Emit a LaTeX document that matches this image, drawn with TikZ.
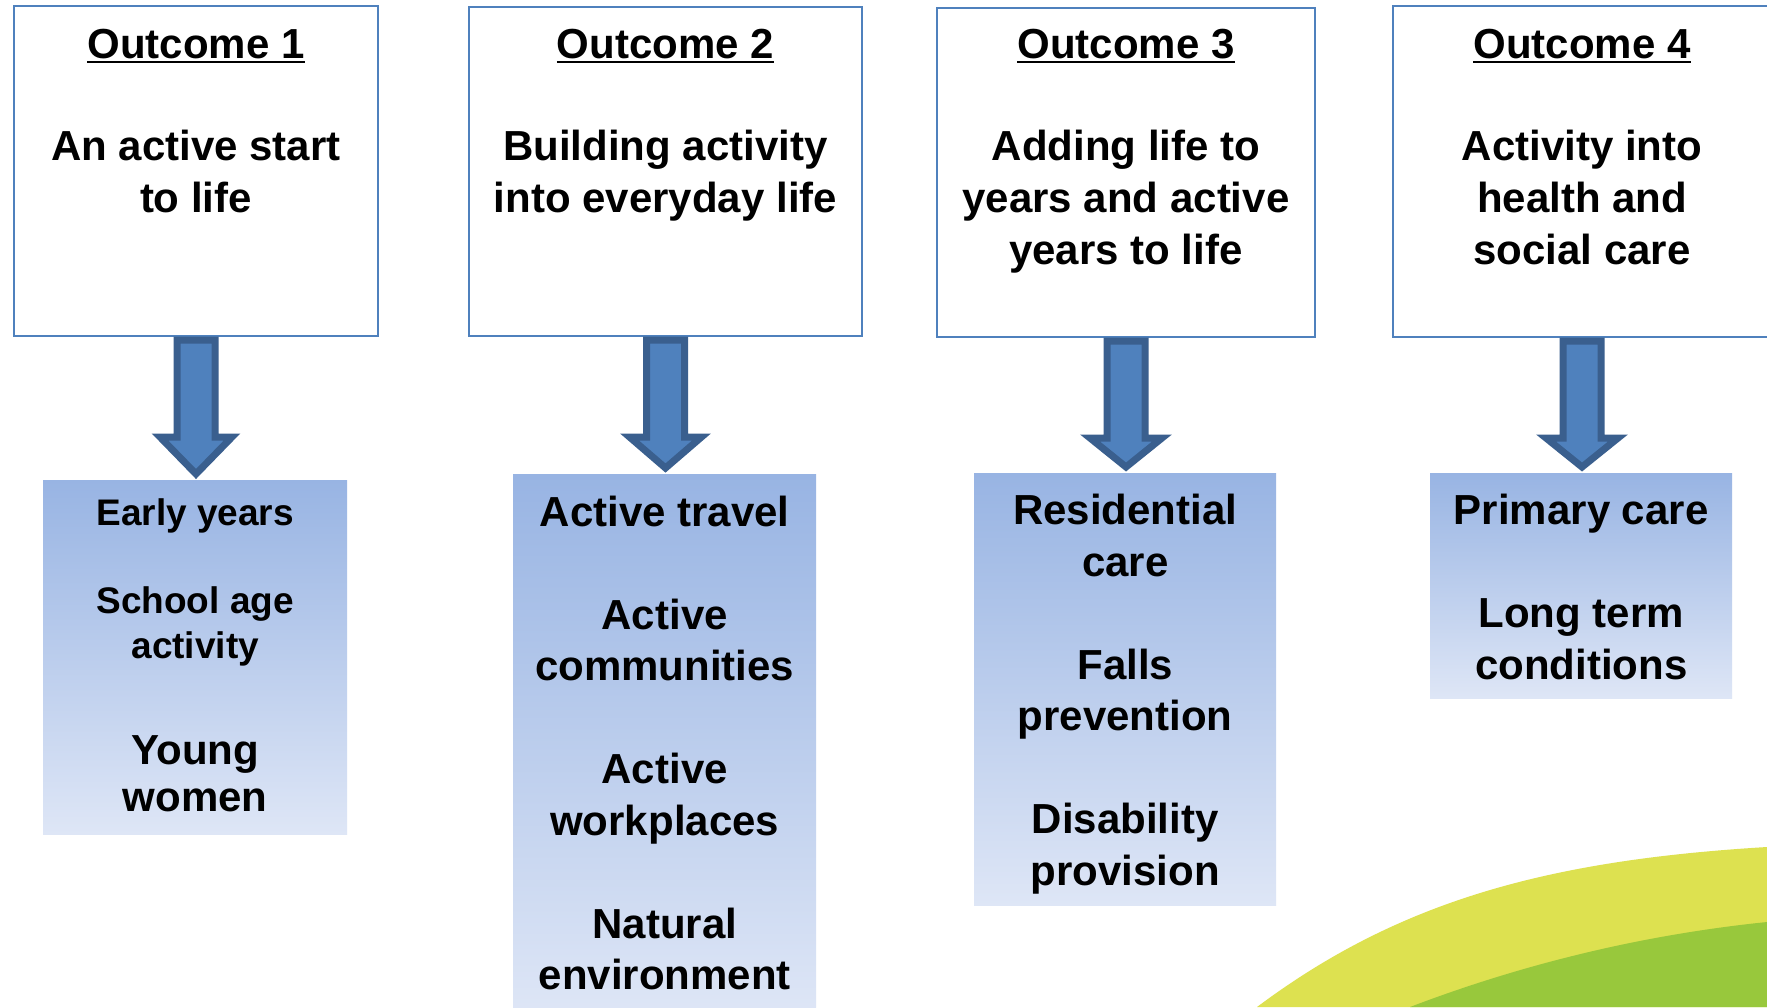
\documentclass[tikz,border=0pt]{standalone}
\usepackage{fontspec}
\setmainfont{Liberation Sans}
\usetikzlibrary{calc}

\definecolor{frameblue}{RGB}{79,129,189}
\definecolor{arrowfill}{RGB}{79,129,189}
\definecolor{arrowedge}{RGB}{58,95,142}
\definecolor{paneltop}{RGB}{152,180,227}
\definecolor{panelbot}{RGB}{222,230,246}
\definecolor{swyellow}{RGB}{221,225,80}
\definecolor{swgreen}{RGB}{152,200,60}

% underlined heading with a rule of fixed depth and thickness
\newcommand\ulbox[1]{\setbox0\hbox{#1}\rlap{\rule[-4.5pt]{\wd0}{2.5pt}}\box0}

% thick block arrow from an outcome box down to its panel
\newcommand\flowarrow[2]{%
  \draw[flow] ($(#1.south)+(-19,3)$) -- ($(#1.south)+(-19,100)$) -- ($(#1.south)+(-36,100)$)
    -- ($(#1.south |- #2.north)+(0,-6)$) -- ($(#1.south)+(36,100)$) -- ($(#1.south)+(19,100)$)
    -- ($(#1.south)+(19,3)$) -- cycle;}

\begin{document}
\begin{tikzpicture}[x=1pt,y=-1pt,
  outcome/.style={draw=frameblue, line width=2pt, fill=white, anchor=north west, inner sep=0pt},
  panel/.style={anchor=north west, inner sep=0pt, top color=paneltop, bottom color=panelbot, draw=none},
  title/.style={anchor=base, inner sep=0pt, font=\bfseries\fontsize{42pt}{52pt}\selectfont},
  body/.style={anchor=base, inner sep=0pt, align=center, font=\bfseries\fontsize{42pt}{52pt}\selectfont},
  item/.style={anchor=base, inner sep=0pt, align=center, font=\bfseries\fontsize{42pt}{51.5pt}\selectfont},
  smallitem/.style={anchor=base, inner sep=0pt, align=center, font=\bfseries\fontsize{37pt}{45pt}\selectfont},
  flow/.style={fill=arrowfill, draw=arrowedge, line width=7pt, line join=miter}]

\clip (0,0) rectangle (1767,1007);
\fill[white] (0,0) rectangle (1767,1007);

% green swoosh in the lower right corner
\fill[swyellow] (1257,1007) .. controls (1400,900) and (1550,860) .. (1767,847) -- (1767,1007) -- cycle;
\fill[swgreen] (1410,1007) .. controls (1520,965) and (1640,935) .. (1767,922) -- (1767,1007) -- cycle;

% outcome boxes
\node[outcome, minimum width=364pt, minimum height=330pt] (o1) at (13,5) {};
\node[outcome, minimum width=393pt, minimum height=329pt] (o2) at (468,6) {};
\node[outcome, minimum width=378pt, minimum height=329pt] (o3) at (936,7) {};
\node[outcome, minimum width=378pt, minimum height=331pt] (o4) at (1392,5) {};

\node[title] (h1) at (o1.north |- 0,58.5) {\ulbox{Outcome 1}};
\node[title] (h2) at (o2.north |- 0,58.5) {\ulbox{Outcome 2}};
\node[title] (h3) at (o3.north |- 0,58.5) {\ulbox{Outcome 3}};
\node[title] (h4) at (o4.north |- 0,58.5) {\ulbox{Outcome 4}};

% multi-line texts are placed by the baseline of their last line
\node[body] (d1) at (o1.north |- 0,212) {An active start\\to life};
\node[body] (d2) at (o2.north |- 0,212) {Building activity\\into everyday life};
\node[body] (d3) at (o3.north |- 0,264) {Adding life to\\years and active\\years to life};
\node[body] (d4) at (o4.north |- 0,264) {Activity into\\health and\\social care};

% shaded panels of programme areas
\node[panel, minimum width=304pt, minimum height=354pt] (b1) at (43,480) {};
\node[panel, minimum width=303pt, minimum height=540pt] (b2) at (513,474) {};
\node[panel, minimum width=302pt, minimum height=432pt] (b3) at (974,473) {};
\node[panel, minimum width=302pt, minimum height=225pt] (b4) at (1430,473) {};

\node[smallitem] (p1a) at (b1.north |- 0,525) {Early years};
\node[smallitem] (p1b) at (b1.north |- 0,658) {School age\\activity};
\node[anchor=base, inner sep=0pt, align=center, font=\bfseries\fontsize{42pt}{47pt}\selectfont]
  (p1c) at (b1.north |- 0,811) {Young\\women};
\node[item] (p2) at (b2.north |- 0,989.5)
  {Active travel\\[51.5pt]Active\\communities\\[51.5pt]Active\\workplaces\\[51.5pt]Natural\\environment};
\node[item] (p3) at (b3.north |- 0,885)
  {Residential\\care\\[51.5pt]Falls\\prevention\\[51.5pt]Disability\\provision};
\node[item] (p4) at (b4.north |- 0,679) {Primary care\\[51.5pt]Long term\\conditions};

% arrows linking each outcome to its panel
\flowarrow{o1}{b1}
\flowarrow{o2}{b2}
\flowarrow{o3}{b3}
\flowarrow{o4}{b4}
\end{tikzpicture}
\end{document}
